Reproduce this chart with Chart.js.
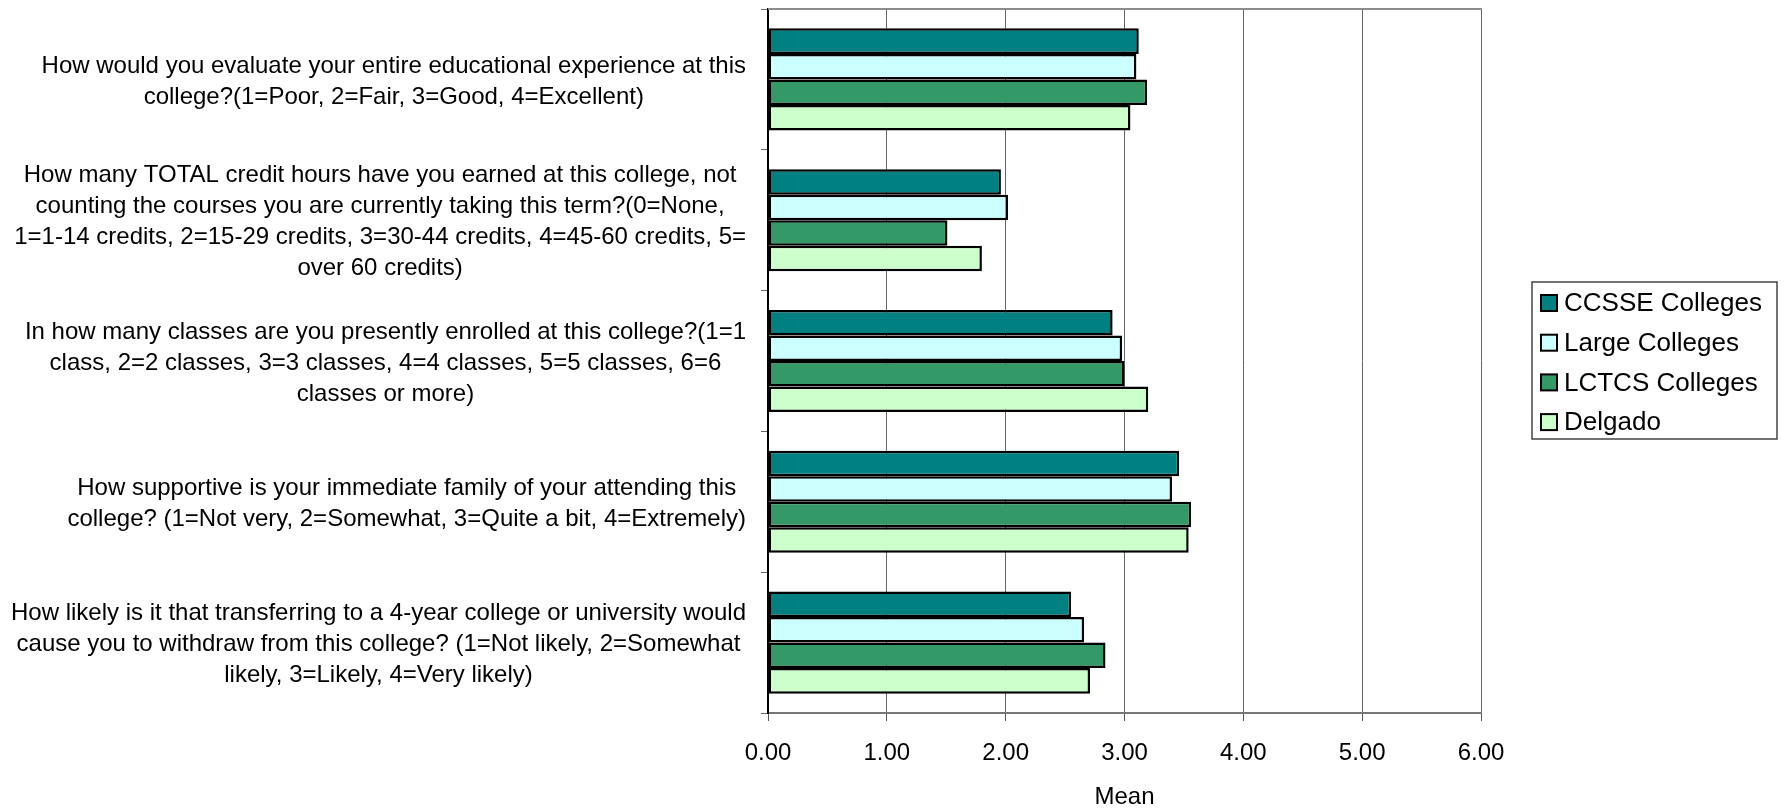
<!DOCTYPE html>
<html>
<head>
<meta charset="utf-8">
<script src="https://cdn.jsdelivr.net/npm/chart.js@4"></script>
<style>
  body { margin: 0; background: #fff; }
  canvas { display: block; }
</style>
</head>
<body>
<canvas id="myChart" width="1784" height="809"></canvas>
<script>
// question labels (one array of lines per category)
const questions = [
  ["How would you evaluate your entire educational experience at this", "college?(1=Poor, 2=Fair, 3=Good, 4=Excellent)"],
  ["How many TOTAL credit hours have you earned at this college, not", "counting the courses you are currently taking this term?(0=None,", "1=1-14 credits, 2=15-29 credits, 3=30-44 credits, 4=45-60 credits, 5=", "over 60 credits)"],
  ["In how many classes are you presently enrolled at this college?(1=1", "class, 2=2 classes, 3=3 classes, 4=4 classes, 5=5 classes, 6=6", "classes or more)"],
  ["How supportive is your immediate family of your attending this", "college? (1=Not very, 2=Somewhat, 3=Quite a bit, 4=Extremely)"],
  ["How likely is it that transferring to a 4-year college or university would", "cause you to withdraw from this college? (1=Not likely, 2=Somewhat", "likely, 3=Likely, 4=Very likely)"],
];

const seriesNames = ["CCSSE Colleges", "Large Colleges", "LCTCS Colleges", "Delgado"];
const ccsse = [3.12, 1.96, 2.90, 3.46, 2.55];
const large = [3.10, 2.02, 2.98, 3.40, 2.66];
const lctcs = [3.19, 1.51, 3.00, 3.56, 2.84];
const delgado = [3.05, 1.80, 3.20, 3.54, 2.71];
const seriesColors = ["#008080", "#ccffff", "#339966", "#ccffcc"];

const xTicks = [0, 1, 2, 3, 4, 5, 6];

const FONT = "Liberation Sans, Arial, sans-serif";
Chart.defaults.font.family = FONT;
Chart.defaults.color = "#000";

// draws the wrapped question text left of the axis, lines centred within each block
const questionLabels = {
  id: "questionLabels",
  afterDraw(chart) {
    const ctx = chart.ctx;
    const yScale = chart.scales.y;
    const right = 746;
    const lineH = 31;
    ctx.save();
    ctx.font = "24px " + FONT;
    ctx.fillStyle = "#000";
    ctx.textAlign = "center";
    ctx.textBaseline = "middle";
    questions.forEach((lines, i) => {
      const widest = Math.max(...lines.map((l) => ctx.measureText(l).width));
      const cx = right - widest / 2;
      const cy = yScale.getPixelForTick(i) + 2;
      const top = cy - ((lines.length - 1) * lineH) / 2;
      lines.forEach((l, j) => ctx.fillText(l, cx, top + j * lineH));
    });
    ctx.restore();
  },
};

// top border of the plot and boxed legend
const frameAndLegend = {
  id: "frameAndLegend",
  afterDraw(chart) {
    const ctx = chart.ctx;
    const a = chart.chartArea;
    ctx.save();
    ctx.strokeStyle = "#8c8c8c";
    ctx.lineWidth = 2;
    ctx.beginPath();
    ctx.moveTo(a.left, a.top);
    ctx.lineTo(a.right + 1, a.top);
    ctx.stroke();

    // legend
    const bx = 1532, by = 282, bw = 245, bh = 157;
    ctx.strokeStyle = "#444";
    ctx.lineWidth = 1.5;
    ctx.strokeRect(bx, by, bw, bh);
    ctx.font = "26px " + FONT;
    ctx.textBaseline = "middle";
    ctx.textAlign = "left";
    chart.data.datasets.forEach((ds, i) => {
      const cy = 303 + i * 39.7;
      ctx.fillStyle = ds.backgroundColor;
      ctx.fillRect(1541, cy - 8, 16, 16);
      ctx.strokeStyle = "#000";
      ctx.lineWidth = 2;
      ctx.strokeRect(1541, cy - 8, 16, 16);
      ctx.fillStyle = "#000";
      ctx.fillText(ds.label, 1564, cy + 1);
    });
    ctx.restore();
  },
};

const data = {
  labels: questions.map((q) => q.join(" ")),
  datasets: [ccsse, large, lctcs, delgado].map((vals, i) => ({
    label: seriesNames[i],
    data: vals,
    backgroundColor: seriesColors[i],
    borderColor: "#000",
    borderWidth: 2.5,
    borderSkipped: false,
    barPercentage: 1,
    categoryPercentage: 0.725,
  })),
};

const config = {
  type: "bar",
  data,
  options: {
    indexAxis: "y",
    responsive: false,
    animation: false,
    layout: { padding: { left: 0, right: 303, top: 9, bottom: 0 } },
    plugins: {
      legend: { display: false },
      tooltip: { enabled: false },
    },
    scales: {
      x: {
        min: 0,
        max: 6,
        afterBuildTicks: (scale) => {
          scale.ticks = xTicks.map((v) => ({ value: v }));
        },
        afterFit: (scale) => {
          scale.height = 96;
        },
        ticks: {
          font: { size: 24 },
          color: "#000",
          padding: 18,
          callback: (v) => Number(v).toFixed(2),
        },
        grid: {
          color: "#666",
          lineWidth: 1,
          tickLength: 8,
          tickColor: "#555",
        },
        border: { color: "#777", width: 2 },
        title: {
          display: true,
          text: "Mean",
          font: { size: 24 },
          color: "#000",
          padding: { top: 0, bottom: -3 },
        },
      },
      y: {
        afterFit: (scale) => {
          scale.width = 768;
        },
        ticks: { display: false },
        grid: {
          drawOnChartArea: false,
          drawTicks: true,
          tickLength: 7,
          color: "#666",
          offset: true,
        },
        border: { color: "#000", width: 2 },
      },
    },
  },
  plugins: [questionLabels, frameAndLegend],
};

const myChart = new Chart(document.getElementById("myChart"), config);
</script>
</body>
</html>
